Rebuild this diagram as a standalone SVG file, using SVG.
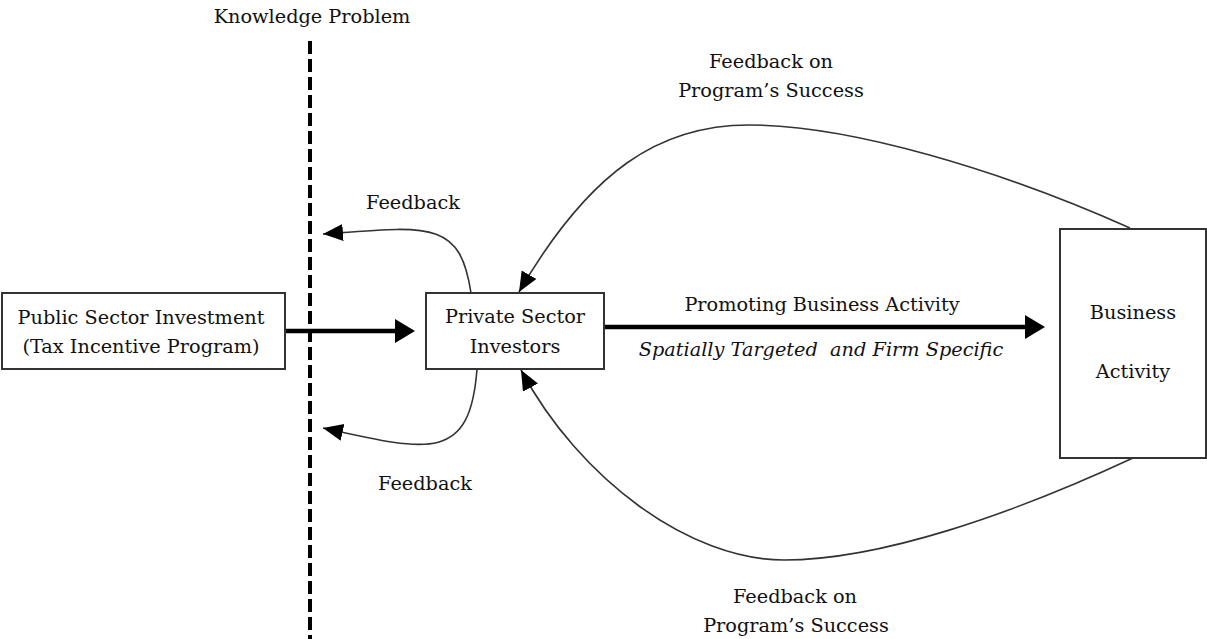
<svg xmlns="http://www.w3.org/2000/svg" width="1207" height="639" viewBox="0 0 1207 639">
<style>
text{font-family:"DejaVu Serif","Liberation Serif",serif;font-size:19.3px;fill:#111;text-anchor:middle}
.it{font-style:italic;white-space:pre}
.box{fill:#fff;stroke:#333;stroke-width:2}
.thin{fill:none;stroke:#333;stroke-width:1.6}
.thick{fill:none;stroke:#000;stroke-width:4.5}
</style>
<defs>
<marker id="ah" markerUnits="userSpaceOnUse" markerWidth="22" markerHeight="18" refX="20" refY="8.5" orient="auto">
<path d="M0,0 L20,8.5 L0,17 Z" fill="#000"/>
</marker>
<marker id="ahb" markerUnits="userSpaceOnUse" markerWidth="22" markerHeight="26" refX="2" refY="12" orient="auto">
<path d="M0,0 L20,12 L0,24 Z" fill="#000"/>
</marker>
</defs>
<g id="knowledge-problem">
<line x1="310" y1="41" x2="310" y2="639" stroke="#000" stroke-width="4" stroke-dasharray="13 5"/>
<text x="312" y="23">Knowledge Problem</text>
</g>
<g id="connectors">
<line class="thick" x1="285" y1="331" x2="397" y2="331" marker-end="url(#ahb)"/>
<line class="thick" x1="604" y1="327" x2="1027" y2="327" marker-end="url(#ahb)"/>
<path class="thin" d="M471,293 C460,220 430,226 323,234" marker-end="url(#ah)"/>
<path class="thin" d="M477,369 C470,462 430,452 323,428" marker-end="url(#ah)"/>
<path class="thin" d="M1130,228 C1000,170 850,125 749,125 C660,125 590,170 519,292" marker-end="url(#ah)"/>
<path class="thin" d="M1133,458 C1010,515 880,560 784,560 C690,560 580,480 521,370" marker-end="url(#ah)"/>
<text x="413" y="209">Feedback</text>
<text x="425" y="490">Feedback</text>
<text x="771" y="68">Feedback on</text>
<text x="771" y="97">Program’s Success</text>
<text x="795" y="603">Feedback on</text>
<text x="796" y="632">Program’s Success</text>
<text x="822" y="311">Promoting Business Activity</text>
<text class="it" x="821" y="356" xml:space="preserve">Spatially Targeted  and Firm Specific</text>
</g>
<g id="public-sector">
<rect class="box" x="2" y="293" width="283" height="76"/>
<text x="141" y="324">Public Sector Investment</text>
<text x="141" y="353">(Tax Incentive Program)</text>
</g>
<g id="private-sector">
<rect class="box" x="426" y="293" width="178" height="76"/>
<text x="515" y="323">Private Sector</text>
<text x="515" y="353">Investors</text>
</g>
<g id="business-activity">
<rect class="box" x="1060" y="229" width="146" height="229"/>
<text x="1133" y="319">Business</text>
<text x="1133" y="378">Activity</text>
</g>
</svg>
